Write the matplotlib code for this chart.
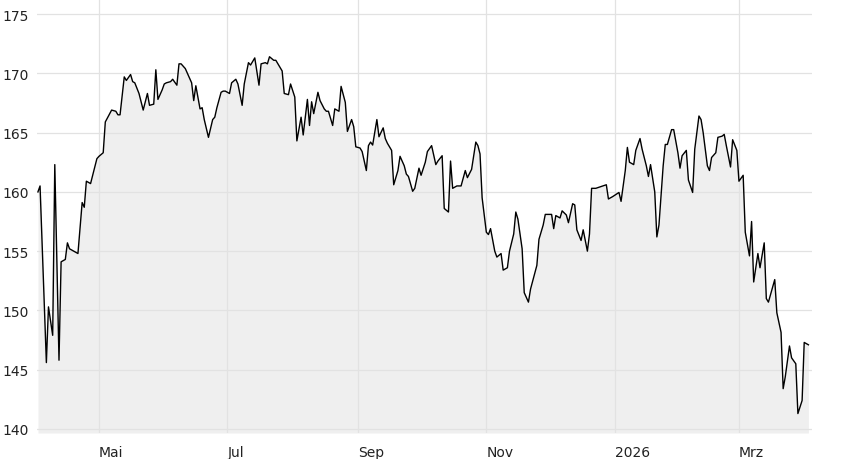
import matplotlib
matplotlib.use("Agg")
import matplotlib.pyplot as plt
import matplotlib.dates as mdates
import pandas as pd
import datetime as dt

dates = [
    "2025-04-02", "2025-04-03", "2025-04-06", "2025-04-07", "2025-04-09", "2025-04-10", "2025-04-12",
    "2025-04-13", "2025-04-15", "2025-04-16", "2025-04-17", "2025-04-19", "2025-04-21", "2025-04-23",
    "2025-04-24", "2025-04-25", "2025-04-27", "2025-04-30", "2025-05-01", "2025-05-03", "2025-05-04",
    "2025-05-07", "2025-05-09", "2025-05-10", "2025-05-11", "2025-05-13", "2025-05-14", "2025-05-16",
    "2025-05-17", "2025-05-18", "2025-05-20", "2025-05-22", "2025-05-24", "2025-05-25", "2025-05-27",
    "2025-05-28", "2025-05-29", "2025-05-31", "2025-06-01", "2025-06-02", "2025-06-04", "2025-06-05",
    "2025-06-07", "2025-06-08", "2025-06-09", "2025-06-11", "2025-06-12", "2025-06-14", "2025-06-15",
    "2025-06-16", "2025-06-18", "2025-06-19", "2025-06-20", "2025-06-22", "2025-06-24", "2025-06-25",
    "2025-06-26", "2025-06-28", "2025-06-29", "2025-06-30", "2025-07-02", "2025-07-03", "2025-07-05",
    "2025-07-06", "2025-07-08", "2025-07-09", "2025-07-11", "2025-07-12", "2025-07-14", "2025-07-16",
    "2025-07-17", "2025-07-19", "2025-07-20", "2025-07-21", "2025-07-23", "2025-07-24", "2025-07-26",
    "2025-07-27", "2025-07-28", "2025-07-30", "2025-07-31", "2025-08-02", "2025-08-03", "2025-08-05",
    "2025-08-06", "2025-08-08", "2025-08-09", "2025-08-10", "2025-08-11", "2025-08-13", "2025-08-14",
    "2025-08-16", "2025-08-17", "2025-08-18", "2025-08-20", "2025-08-21", "2025-08-23", "2025-08-24",
    "2025-08-26", "2025-08-27", "2025-08-29", "2025-08-30", "2025-08-31", "2025-09-02", "2025-09-03",
    "2025-09-05", "2025-09-06", "2025-09-07", "2025-09-08", "2025-09-10", "2025-09-11", "2025-09-13",
    "2025-09-14", "2025-09-15", "2025-09-17", "2025-09-18", "2025-09-20", "2025-09-21", "2025-09-23",
    "2025-09-24", "2025-09-25", "2025-09-27", "2025-09-28", "2025-09-30", "2025-10-01", "2025-10-03",
    "2025-10-04", "2025-10-06", "2025-10-08", "2025-10-09", "2025-10-11", "2025-10-12", "2025-10-14",
    "2025-10-15", "2025-10-16", "2025-10-18", "2025-10-20", "2025-10-22", "2025-10-23", "2025-10-25",
    "2025-10-27", "2025-10-28", "2025-10-29", "2025-10-30", "2025-11-01", "2025-11-02", "2025-11-03",
    "2025-11-05", "2025-11-06", "2025-11-08", "2025-11-09", "2025-11-11", "2025-11-12", "2025-11-14",
    "2025-11-15", "2025-11-16", "2025-11-18", "2025-11-19", "2025-11-21", "2025-11-22", "2025-11-25",
    "2025-11-26", "2025-11-28", "2025-11-29", "2025-12-01", "2025-12-02", "2025-12-03", "2025-12-04",
    "2025-12-06", "2025-12-07", "2025-12-09", "2025-12-10", "2025-12-12", "2025-12-13", "2025-12-14",
    "2025-12-16", "2025-12-17", "2025-12-19", "2025-12-20", "2025-12-21", "2025-12-23", "2025-12-28",
    "2025-12-29", "2025-12-31", "2026-01-03", "2026-01-04", "2026-01-06", "2026-01-07", "2026-01-08",
    "2026-01-10", "2026-01-11", "2026-01-13", "2026-01-14", "2026-01-16", "2026-01-17", "2026-01-18",
    "2026-01-20", "2026-01-21", "2026-01-22", "2026-01-24", "2026-01-25", "2026-01-26", "2026-01-28",
    "2026-01-29", "2026-01-31", "2026-02-01", "2026-02-02", "2026-02-04", "2026-02-05", "2026-02-07",
    "2026-02-08", "2026-02-10", "2026-02-11", "2026-02-12", "2026-02-14", "2026-02-15", "2026-02-16",
    "2026-02-18", "2026-02-19", "2026-02-21", "2026-02-22", "2026-02-23", "2026-02-25", "2026-02-26",
    "2026-02-28", "2026-03-01", "2026-03-03", "2026-03-04", "2026-03-06", "2026-03-07", "2026-03-08",
    "2026-03-10", "2026-03-11", "2026-03-13", "2026-03-14", "2026-03-15", "2026-03-18", "2026-03-19",
    "2026-03-21", "2026-03-22", "2026-03-23", "2026-03-25", "2026-03-26", "2026-03-28", "2026-03-29",
    "2026-03-31", "2026-04-01", "2026-04-03",
]

prices = [
    160.0, 160.5, 145.6, 150.3, 147.9, 162.3, 145.8,
    154.1, 154.3, 155.7, 155.2, 155.0, 154.8, 159.1,
    158.7, 160.9, 160.7, 162.8, 163.0, 163.3, 165.9,
    166.9, 166.8, 166.5, 166.5, 169.7, 169.4, 169.9,
    169.3, 169.2, 168.3, 166.9, 168.3, 167.3, 167.4,
    170.3, 167.8, 168.6, 169.1, 169.2, 169.3, 169.5,
    169.0, 170.8, 170.8, 170.4, 170.0, 169.2, 167.7,
    168.95, 167.0, 167.1, 166.1, 164.6, 166.1, 166.3,
    167.1, 168.4, 168.5, 168.5, 168.3, 169.2, 169.5,
    169.1, 167.3, 169.1, 170.9, 170.7, 171.3, 169.0,
    170.8, 170.9, 170.8, 171.4, 171.1, 171.1, 170.5,
    170.2, 168.3, 168.2, 169.1, 168.0, 164.3, 166.3,
    164.8, 167.8, 165.6, 167.6, 166.6, 168.4, 167.7,
    167.0, 166.8, 166.8, 165.6, 167.0, 166.8, 168.9,
    167.55, 165.1, 166.1, 165.5, 163.8, 163.7, 163.4,
    161.8, 163.9, 164.2, 163.95, 166.1, 164.65, 165.4,
    164.5, 164.1, 163.5, 160.6, 161.8, 163.0, 162.2,
    161.5, 161.3, 160.05, 160.3, 162.0, 161.4, 162.5,
    163.4, 163.9, 162.3, 162.6, 163.05, 158.6, 158.3,
    162.6, 160.3, 160.5, 160.5, 161.8, 161.2, 161.9,
    164.2, 163.9, 163.2, 159.5, 156.6, 156.4, 156.9,
    155.0, 154.5, 154.8, 153.4, 153.6, 155.0, 156.45,
    158.3, 157.7, 155.2, 151.5, 150.7, 151.8, 153.8,
    156.0, 157.2, 158.1, 158.1, 158.1, 156.9, 158.0,
    157.8, 158.4, 158.05, 157.4, 159.0, 158.9, 156.8,
    155.9, 156.8, 155.0, 156.45, 160.3, 160.3, 160.6,
    159.4, 159.6, 159.95, 159.2, 161.8, 163.75, 162.5,
    162.3, 163.5, 164.5, 163.6, 162.2, 161.3, 162.3,
    160.0, 156.2, 157.2, 162.2, 164.0, 164.0, 165.25,
    165.25, 163.3, 162.0, 163.05, 163.5, 161.0, 159.95,
    163.6, 166.4, 166.1, 165.0, 162.2, 161.8, 162.9,
    163.3, 164.6, 164.7, 164.85, 163.9, 162.1, 164.4,
    163.5, 160.9, 161.4, 156.6, 154.6, 157.5, 152.4,
    154.8, 153.6, 155.7, 151.0, 150.7, 152.6, 149.8,
    148.15, 143.4, 144.4, 147.0, 146.0, 145.5, 141.3,
    142.4, 147.3, 147.1,
]

y_ticks = [140, 145, 150, 155, 160, 165, 170, 175]
x_tick_dates = ["2025-05-01", "2025-07-01", "2025-09-01", "2025-11-01", "2026-01-01", "2026-03-01"]
x_tick_labels = ["Mai", "Jul", "Sep", "Nov", "2026", "Mrz"]

x = pd.to_datetime(dates)
y = prices

W, H = 848, 460
fig = plt.figure(figsize=(W / 100, H / 100), dpi=100)
fig.patch.set_facecolor("white")
ax = fig.add_axes([37 / W, (H - 434) / H, (812 - 37) / W, 434 / H])

ymin, ymax = 139.66, 176.27
ax.set_ylim(ymin, ymax)
base = dt.datetime(2025, 5, 1)
ax.set_xlim(base + dt.timedelta(days=-29.45), base + dt.timedelta(days=338.7))

ax.fill_between(x, y, ymin, color="#efefef", linewidth=0, zorder=0.1)
ax.plot(x, y, color="black", linewidth=1.0, zorder=2)

ax.set_axisbelow(True)
ax.set_yticks(y_ticks)
ax.set_yticklabels([str(t) for t in y_ticks])
ax.set_xticks(pd.to_datetime(x_tick_dates))
ax.set_xticklabels(x_tick_labels, ha="left")
ax.grid(True, color="#e2e2e2", linewidth=0.9)
ax.tick_params(axis="both", length=0, labelsize=10, labelcolor="#222222")
ax.tick_params(axis="y", pad=6)
ax.tick_params(axis="x", pad=9)
for s in ax.spines.values():
    s.set_visible(False)
ax.set_facecolor("white")

fig.savefig("out.png", dpi=100, facecolor="white")
